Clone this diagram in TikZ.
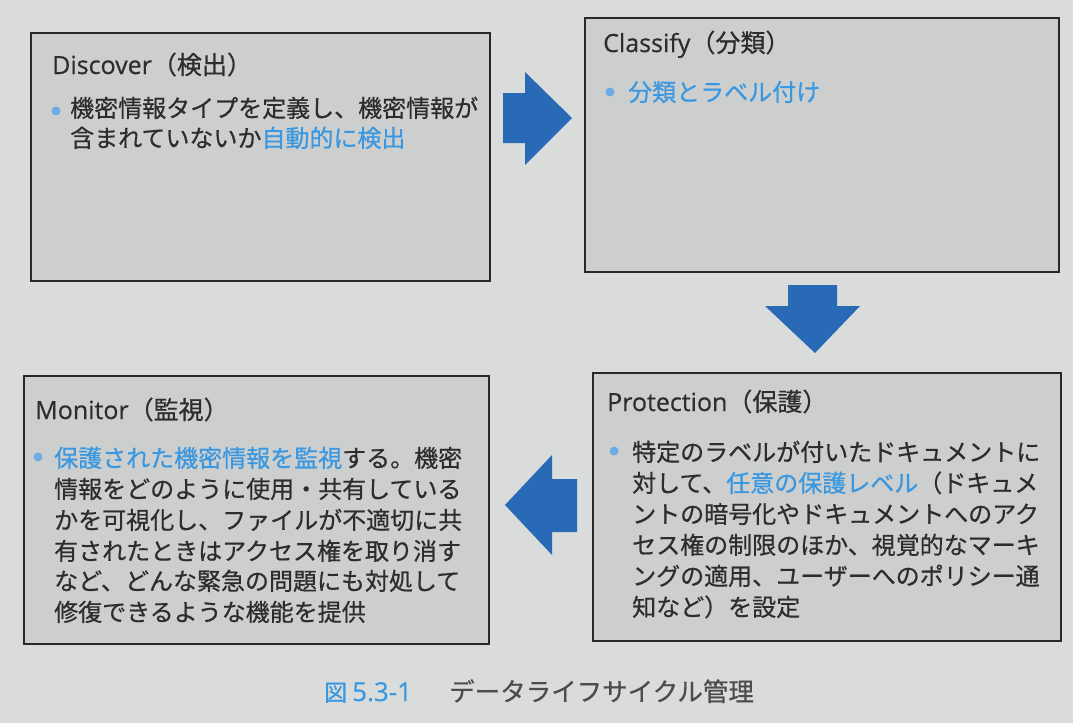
\documentclass[tikz,border=0pt]{standalone}
\usepackage{fontspec}
\setmainfont[FakeBold=0.6]{Noto Sans CJK JP}
\newfontfamily\lat[FakeBold=0.5]{Open Sans}
\definecolor{bg}{RGB}{218,220,219}
\definecolor{boxfill}{RGB}{205,206,206}
\definecolor{boxline}{RGB}{40,40,40}
\definecolor{txt}{RGB}{45,45,45}
\definecolor{hlblue}{RGB}{58,152,225}
\definecolor{dotblue}{RGB}{105,172,230}
\definecolor{arrowblue}{RGB}{40,106,182}
\newcommand{\hl}[1]{\textcolor{hlblue}{#1}}
\tikzset{
  stagebox/.style={draw=boxline, line width=1.8pt, fill=boxfill, inner sep=0pt, anchor=north west},
  ttl/.style={anchor=base west, inner sep=0pt, text=txt, font=\fontsize{25}{25}\selectfont},
  bodyline/.style={anchor=base west, inner sep=0pt, text=txt, font=\fontsize{24}{24}\selectfont},
  dot/.style={circle, fill=dotblue, inner sep=0pt, minimum size=9pt},
  flow/.style={fill=arrowblue},
  captext/.style={anchor=base west, inner sep=0pt}
}
\begin{document}
\begin{tikzpicture}[x=1pt,y=-1pt]
\useasboundingbox (0,0) rectangle (1073,723);
\fill[bg] (0,0) rectangle (1073,723);

% boxes
\node[stagebox, minimum width=459pt, minimum height=248pt] (discover) at (30,32) {};
\node[stagebox, minimum width=474pt, minimum height=254pt] (classify) at (584,17) {};
\node[stagebox, minimum width=468pt, minimum height=268pt] (protect) at (592,372) {};
\node[stagebox, minimum width=465pt, minimum height=268pt] (monitor) at (23,375) {};

% arrows
\fill[flow] (503,93) -- (525,93) -- (525,72) -- (572,118) -- (525,165) -- (525,143) -- (503,143) -- cycle;
\fill[flow] (788,285) -- (837,285) -- (837,306) -- (860,306) -- (815,353) -- (765,306) -- (788,306) -- cycle;
\fill[flow] (577,479) -- (552,479) -- (552,455) -- (505,505) -- (552,555) -- (552,532) -- (577,532) -- cycle;

% Discover
\node[ttl] (dt) at (52,74) {{\lat Discover}（検出）};
\node[dot] (dd) at (56,111) {};
\node[bodyline] (d1) at (70,117) {機密情報タイプを定義し、機密情報が};
\node[bodyline] (d2) at (70,147) {含まれていないか\hl{自動的に検出}};

% Classify
\node[ttl] (ct) at (603,52) {{\lat Classify}（分類）};
\node[dot] (cd) at (610,92) {};
\node[bodyline] (c1) at (628,101) {\hl{分類とラベル付け}};

% Protection
\node[ttl] (pt) at (607,411) {{\lat Protection}（保護）};
\node[dot] (pd) at (614,451) {};
\node[bodyline] (p1) at (632,461) {特定のラベルが付いたドキュメントに};
\node[bodyline] (p2) at (632,492) {対して、\hl{任意の保護レベル}（ドキュメ};
\node[bodyline] (p3) at (632,523) {ントの暗号化やドキュメントへのアク};
\node[bodyline] (p4) at (632,554) {セス権の制限のほか、視覚的なマーキ};
\node[bodyline] (p5) at (632,585) {ングの適用、ユーザーへのポリシー通};
\node[bodyline] (p6) at (632,616) {知など）を設定};

% Monitor
\node[ttl] (mt) at (35,419) {{\lat Monitor}（監視）};
\node[dot] (md) at (38,457) {};
\node[bodyline] (m1) at (54,467) {\hl{保護された機密情報を監視}する。機密};
\node[bodyline] (m2) at (54,498) {情報をどのように使用・共有している};
\node[bodyline] (m3) at (54,529) {かを可視化し、ファイルが不適切に共};
\node[bodyline] (m4) at (54,560) {有されたときはアクセス権を取り消す};
\node[bodyline] (m5) at (54,590) {など、どんな緊急の問題にも対処して};
\node[bodyline] (m6) at (54,621) {修復できるような機能を提供};

% caption
\node[captext, text=hlblue, font=\fontsize{23}{23}\selectfont] (fig) at (324,701) {図};
\node[captext, text=hlblue, font=\lat\fontsize{26}{26}\selectfont] (fignum) at (352,701) {5.3-1};
\node[captext, text=txt!85, font=\fontsize{25.5}{25.5}\selectfont] (figtitle) at (449,701) {データライフサイクル管理};
\end{tikzpicture}
\end{document}
